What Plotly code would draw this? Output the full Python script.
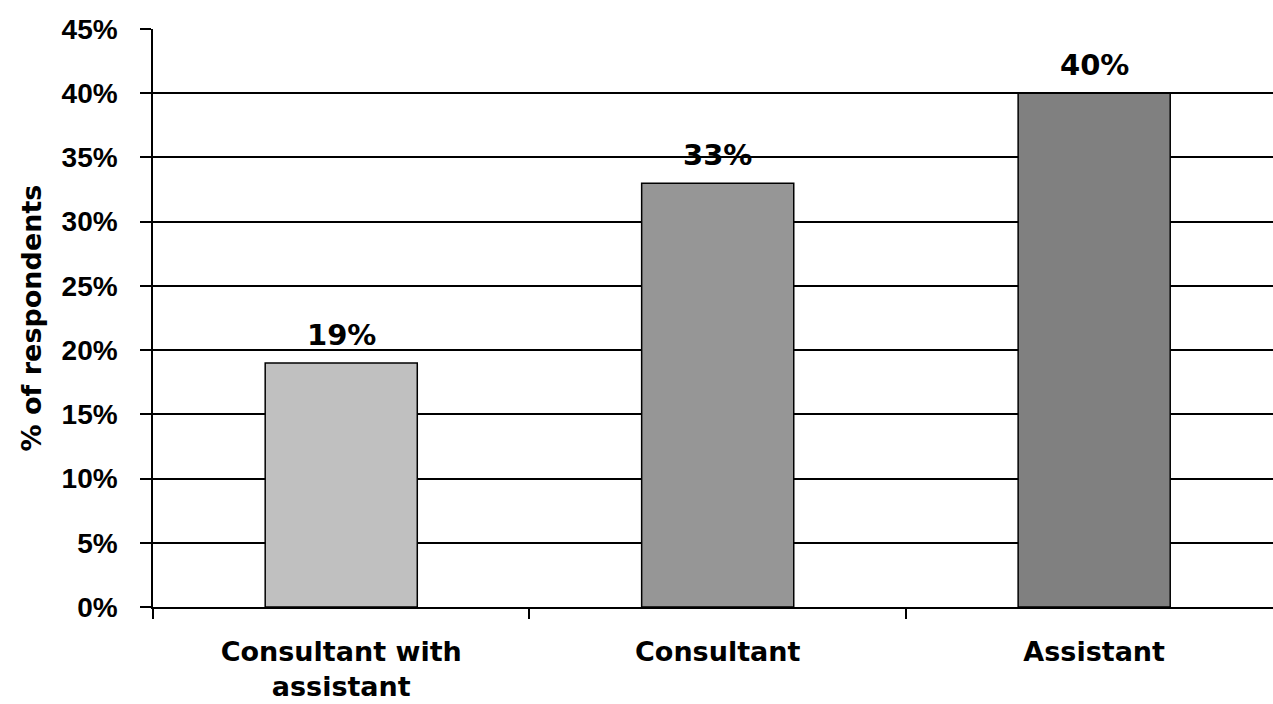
import plotly.graph_objects as go

categories = ["Consultant with<br>assistant", "Consultant", "Assistant"]
values = [19, 33, 40]
value_labels = ["19%", "33%", "40%"]
bar_colors = ["#C0C0C0", "#969696", "#808080"]
y_ticks = [0, 5, 10, 15, 20, 25, 30, 35, 40, 45]
y_tick_labels = [f"{v}%" for v in y_ticks]

arial = "Liberation Sans, Arial, sans-serif"
wide = "DejaVu Sans, Verdana, sans-serif"

fig = go.Figure()
fig.add_trace(go.Bar(
    x=categories,
    y=values,
    width=0.404,
    marker=dict(color=bar_colors, line=dict(color="black", width=1.5)),
    cliponaxis=False,
))

for c, v, t in zip(categories, values, value_labels):
    fig.add_annotation(
        x=c, y=v, text=t, showarrow=False,
        yanchor="bottom", yshift=9,
        font=dict(family=wide, size=29, color="black", weight="bold"),
    )

fig.update_layout(
    width=1273,
    height=704,
    margin=dict(l=153, r=0, t=29, b=97),
    paper_bgcolor="white",
    plot_bgcolor="white",
    showlegend=False,
    font=dict(family=arial, color="black"),
    xaxis=dict(
        range=[-0.5, 2.475],
        showline=True, linecolor="black", linewidth=1.5,
        ticks="outside", tickson="boundaries", ticklen=10, tickcolor="black", tickwidth=1.5,
        tickfont=dict(family=wide, size=27, color="black", weight="bold"),
        ticklabelstandoff=20,
        showgrid=False,
    ),
    yaxis=dict(
        range=[0, 45],
        tickvals=y_ticks,
        ticktext=y_tick_labels,
        showline=True, linecolor="black", linewidth=1.5,
        ticks="outside", ticklen=11, tickcolor="black", tickwidth=1.5,
        tickfont=dict(family=arial, size=28, color="black", weight="bold"),
        ticklabelstandoff=17,
        showgrid=True, gridcolor="black", gridwidth=1.5,
        zeroline=False,
        title=dict(text="% of respondents", font=dict(family=wide, size=27, color="black", weight="bold"), standoff=12),
    ),
)

fig.write_html("out.html")
